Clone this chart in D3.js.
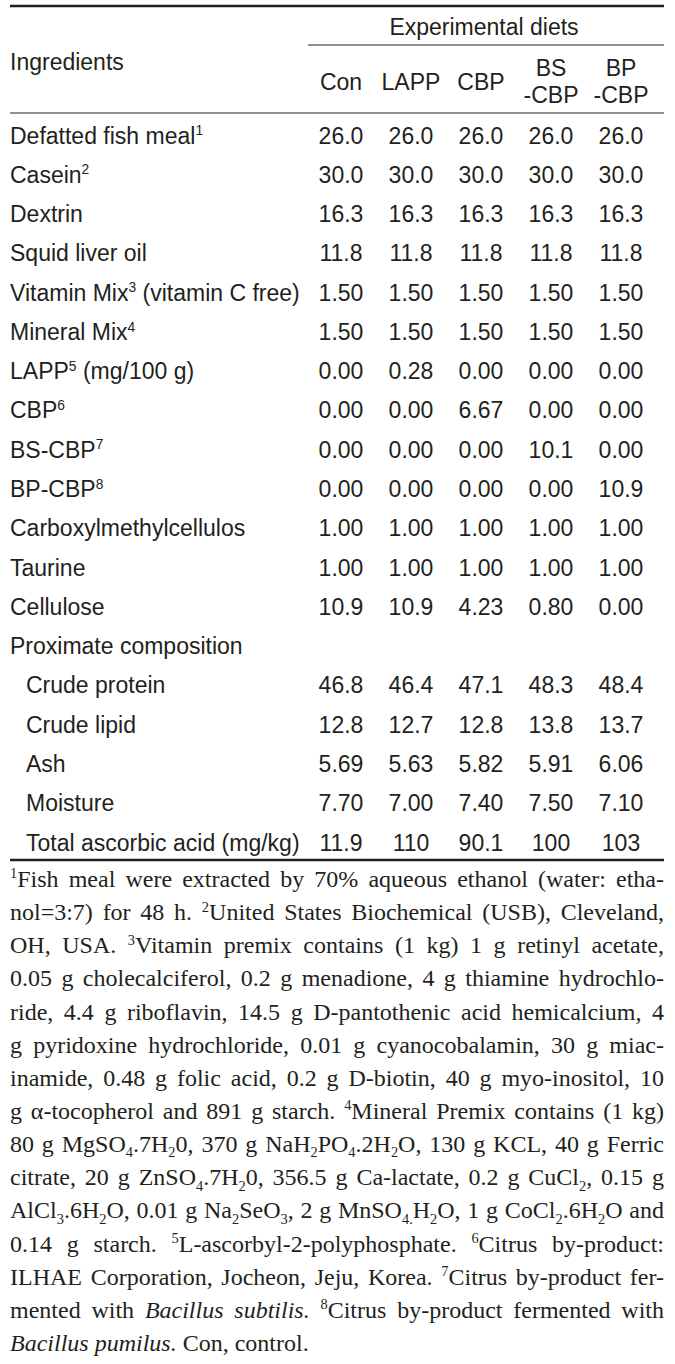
<!DOCTYPE html>
<html>
<head>
<meta charset="utf-8">
<script src="https://cdn.jsdelivr.net/npm/d3@7"></script>
<style>
  html, body { margin: 0; padding: 0; background: #ffffff; }
  svg { display: block; }
</style>
</head>
<body>
<div id="chart"></div>
<script>
// ---------------- DATA ----------------
const columns = ["Con", "LAPP", "CBP", "BS-CBP", "BP-CBP"];
const columnHeaderLines = [["Con"], ["LAPP"], ["CBP"], ["BS", "-CBP"], ["BP", "-CBP"]];
const groupHeader = "Experimental diets";
const rowHeader = "Ingredients";

// ^n marks a superscript footnote number
const rowLabels = [
  "Defatted fish meal^1", "Casein^2", "Dextrin", "Squid liver oil",
  "Vitamin Mix^3 (vitamin C free)", "Mineral Mix^4", "LAPP^5 (mg/100 g)",
  "CBP^6", "BS-CBP^7", "BP-CBP^8", "Carboxylmethylcellulos", "Taurine",
  "Cellulose", "Proximate composition", "Crude protein", "Crude lipid",
  "Ash", "Moisture", "Total ascorbic acid (mg/kg)"
];
const rowIndented = [false,false,false,false,false,false,false,false,false,false,false,false,false,false,true,true,true,true,true];

const valuesCon  = ["26.0","30.0","16.3","11.8","1.50","1.50","0.00","0.00","0.00","0.00","1.00","1.00","10.9","","46.8","12.8","5.69","7.70","11.9"];
const valuesLAPP = ["26.0","30.0","16.3","11.8","1.50","1.50","0.28","0.00","0.00","0.00","1.00","1.00","10.9","","46.4","12.7","5.63","7.00","110"];
const valuesCBP  = ["26.0","30.0","16.3","11.8","1.50","1.50","0.00","6.67","0.00","0.00","1.00","1.00","4.23","","47.1","12.8","5.82","7.40","90.1"];
const valuesBS   = ["26.0","30.0","16.3","11.8","1.50","1.50","0.00","0.00","10.1","0.00","1.00","1.00","0.80","","48.3","13.8","5.91","7.50","100"];
const valuesBP   = ["26.0","30.0","16.3","11.8","1.50","1.50","0.00","0.00","0.00","10.9","1.00","1.00","0.00","","48.4","13.7","6.06","7.10","103"];

// {^x} superscript, {_x} subscript, {i:...} italic
const footnoteLines = [
  "{^1}Fish meal were extracted by 70% aqueous ethanol (water: etha-",
  "nol=3:7) for 48 h. {^2}United States Biochemical (USB), Cleveland,",
  "OH, USA. {^3}Vitamin premix contains (1 kg) 1 g retinyl acetate,",
  "0.05 g cholecalciferol, 0.2 g menadione, 4 g thiamine hydrochlo-",
  "ride, 4.4 g riboflavin, 14.5 g D-pantothenic acid hemicalcium, 4",
  "g pyridoxine hydrochloride, 0.01 g cyanocobalamin, 30 g miac-",
  "inamide, 0.48 g folic acid, 0.2 g D-biotin, 40 g myo-inositol, 10",
  "g \u03b1-tocopherol and 891 g starch. {^4}Mineral Premix contains (1 kg)",
  "80 g MgSO{_4}.7H{_2}0, 370 g NaH{_2}PO{_4}.2H{_2}O, 130 g KCL, 40 g Ferric",
  "citrate, 20 g ZnSO{_4}.7H{_2}0, 356.5 g Ca-lactate, 0.2 g CuCl{_2}, 0.15 g",
  "AlCl{_3}.6H{_2}O, 0.01 g Na{_2}SeO{_3}, 2 g MnSO{_4.}H{_2}O, 1 g CoCl{_2}.6H{_2}O and",
  "0.14 g starch. {^5}L-ascorbyl-2-polyphosphate. {^6}Citrus by-product:",
  "ILHAE Corporation, Jocheon, Jeju, Korea. {^7}Citrus by-product fer-",
  "mented with {i:Bacillus subtilis.} {^8}Citrus by-product fermented with",
  "{i:Bacillus pumilus.} Con, control."
];

// ---------------- LAYOUT ----------------
const W = 675, H = 1364;
const left = 10, right = 664;
const ink = "#231f20";
const sans = "'Liberation Sans', Arial, Helvetica, sans-serif";
const serif = "'Liberation Serif', 'Times New Roman', serif";
const fs = 23;      // table font size
const ffs = 24;     // footnote font size

const valueColumns = [valuesCon, valuesLAPP, valuesCBP, valuesBS, valuesBP];

const svg = d3.select("#chart").append("svg")
  .attr("width", W).attr("height", H)
  .attr("viewBox", `0 0 ${W} ${H}`);

const x = d3.scaleBand().domain(columns).range([306, 656]);
const y = d3.scalePoint().domain(d3.range(rowLabels.length)).range([143.5, 850.5]);
const yFoot = d3.scalePoint().domain(d3.range(footnoteLines.length)).range([887, 1351]);

// rules
const rules = [
  {x1: left, x2: right, y: 6, w: 2.5},
  {x1: 308, x2: right, y: 45, w: 1.1},
  {x1: left, x2: right, y: 113, w: 1.1},
  {x1: left, x2: right, y: 860, w: 2.5}
];
svg.append("g").selectAll("line").data(rules).join("line")
  .attr("x1", d => d.x1).attr("x2", d => d.x2)
  .attr("y1", d => d.y).attr("y2", d => d.y)
  .attr("stroke", ink).attr("stroke-width", d => d.w);

// header
const head = svg.append("g").attr("font-family", sans).attr("font-size", fs).attr("fill", ink);
head.append("text").attr("x", (x("Con") + x("BP-CBP") + x.bandwidth()) / 2 + 3).attr("y", 35)
  .attr("text-anchor", "middle").text(groupHeader);
head.append("text").attr("x", left).attr("y", 70).text(rowHeader);

columns.forEach((c, i) => {
  const lines = columnHeaderLines[i];
  const cx = x(c) + x.bandwidth() / 2;
  const ys = lines.length === 1 ? [90] : [76, 103];
  lines.forEach((t, j) => {
    head.append("text").attr("x", cx).attr("y", ys[j]).attr("text-anchor", "middle").text(t);
  });
});

// row labels
const body = svg.append("g").attr("font-family", sans).attr("font-size", fs).attr("fill", ink);
rowLabels.forEach((lab, i) => {
  const t = body.append("text")
    .attr("x", left + (rowIndented[i] ? 16 : 0))
    .attr("y", y(i));
  const parts = lab.split(/(\^\d)/);
  parts.forEach(p => {
    if (!p) return;
    if (p[0] === "^") {
      t.append("tspan").attr("font-size", fs * 0.6).attr("y", y(i) - fs * 0.36).text(p.slice(1));
    } else {
      t.append("tspan").attr("y", y(i)).text(p);
    }
  });
});

// values
columns.forEach((c, ci) => {
  body.append("g").selectAll("text").data(valueColumns[ci]).join("text")
    .attr("x", x(c) + x.bandwidth() / 2)
    .attr("y", (d, i) => y(i))
    .attr("text-anchor", "middle")
    .text(d => d);
});

// footnotes (justified)
function parseSegments(line) {
  const segs = [];
  const re = /\{(\^|_|i:)([^}]*)\}/g;
  let last = 0, m;
  while ((m = re.exec(line)) !== null) {
    if (m.index > last) segs.push({t: line.slice(last, m.index), s: "n"});
    segs.push({t: m[2], s: m[1] === "^" ? "sup" : m[1] === "_" ? "sub" : "it"});
    last = re.lastIndex;
  }
  if (last < line.length) segs.push({t: line.slice(last), s: "n"});
  return segs;
}
function toWords(segs) {
  const words = [[]];
  segs.forEach(sg => {
    const parts = sg.t.split(" ");
    parts.forEach((p, k) => {
      if (k > 0) words.push([]);
      if (p) words[words.length - 1].push({t: p, s: sg.s});
    });
  });
  return words.filter(w => w.length);
}

const foot = svg.append("g").attr("font-family", serif).attr("font-size", ffs).attr("fill", ink);
footnoteLines.forEach((line, li) => {
  const by = yFoot(li);
  const words = toWords(parseSegments(line));
  const nodes = words.map(w => {
    const t = foot.append("text").attr("x", 0).attr("y", by);
    w.forEach(sg => {
      const ts = t.append("tspan").text(sg.t);
      if (sg.s === "sup") ts.attr("font-size", ffs * 0.6).attr("y", by - ffs * 0.36);
      else if (sg.s === "sub") ts.attr("font-size", ffs * 0.6).attr("y", by + ffs * 0.22);
      else if (sg.s === "it") ts.attr("font-style", "italic").attr("y", by);
      else ts.attr("y", by);
    });
    return t;
  });
  const widths = nodes.map(n => n.node().getComputedTextLength());
  const total = d3.sum(widths);
  const isLast = li === footnoteLines.length - 1;
  const gap = isLast ? ffs * 0.25 : (right - left - total) / Math.max(1, nodes.length - 1);
  let cx = left;
  nodes.forEach((n, k) => {
    n.attr("x", cx);
    n.selectAll("tspan").filter((d, j) => j === 0).attr("x", cx);
    cx += widths[k] + gap;
  });
});
</script>
</body>
</html>
